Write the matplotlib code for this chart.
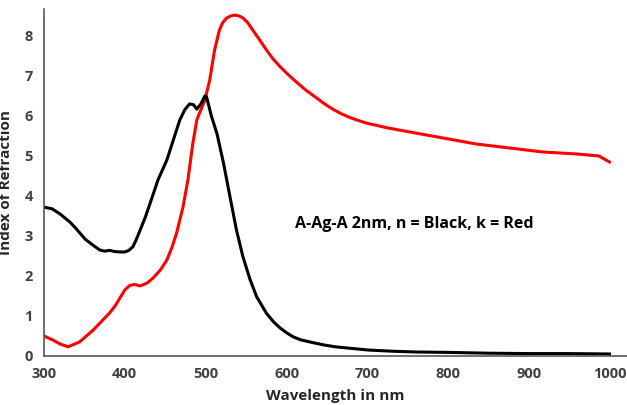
"""Refractive index (n) and extinction (k) of A-Ag-A 2 nm film vs wavelength."""

import matplotlib.pyplot as plt

# n (black curve)
wl_n = [300, 310, 320, 332, 340, 351, 360, 369, 375, 381, 388, 394, 400, 405,
        410, 414, 419, 425, 431, 441, 452, 460, 468, 474, 480, 485, 489, 494,
        499, 501, 507, 514, 522, 530, 538, 546, 555, 563, 575, 584, 592, 600,
        608, 618, 629, 645, 660, 680, 700, 730, 760, 800, 850, 900, 950, 999]
n_vals = [3.72, 3.68, 3.55, 3.35, 3.18, 2.92, 2.78, 2.65, 2.62, 2.64, 2.61, 2.6,
          2.6, 2.64, 2.73, 2.9, 3.15, 3.45, 3.8, 4.4, 4.9, 5.4, 5.9, 6.15, 6.3,
          6.28, 6.17, 6.3, 6.5, 6.48, 6.0, 5.55, 4.82, 3.98, 3.15, 2.48, 1.9,
          1.48, 1.07, 0.85, 0.7, 0.58, 0.48, 0.4, 0.35, 0.28, 0.23, 0.19, 0.15,
          0.12, 0.1, 0.09, 0.07, 0.06, 0.06, 0.05]

# k (red curve)
wl_k = [300, 311, 320, 330, 344, 361, 381, 388, 394, 400, 406, 412, 419, 428,
        435, 444, 452, 458, 464, 472, 478, 484, 489, 494, 499, 505, 511, 517,
        521, 526, 531, 536, 541, 546, 552, 558, 566, 575, 583, 592, 602, 612,
        624, 637, 647, 657, 667, 677, 688, 699, 725, 752, 793, 834, 875, 916,
        958, 986, 999]
k_vals = [0.5, 0.4, 0.3, 0.23, 0.35, 0.65, 1.07, 1.25, 1.45, 1.65, 1.76, 1.79,
          1.75, 1.83, 1.95, 2.15, 2.4, 2.7, 3.07, 3.73, 4.4, 5.3, 5.9, 6.15, 6.4,
          6.9, 7.65, 8.15, 8.33, 8.45, 8.5, 8.52, 8.5, 8.45, 8.33, 8.15, 7.92,
          7.65, 7.43, 7.23, 7.03, 6.85, 6.64, 6.45, 6.3, 6.17, 6.06, 5.97, 5.89,
          5.82, 5.7, 5.6, 5.45, 5.3, 5.2, 5.1, 5.05, 5.0, 4.85]

x_ticks = [300, 400, 500, 600, 700, 800, 900, 1000]
y_ticks = [0, 1, 2, 3, 4, 5, 6, 7, 8]

plt.rcParams["font.family"] = ["Open Sans", "DejaVu Sans"]

fig = plt.figure(figsize=(6.27, 4.05), dpi=100)
ax = fig.add_axes([0.070, 0.121, 0.930, 0.857])

ax.plot(wl_k, k_vals, color="#ff0000", lw=2.2, solid_joinstyle="round")
ax.plot(wl_n, n_vals, color="#000000", lw=2.2, solid_joinstyle="round")

ax.set_xlim(300, 1020.7)
ax.set_ylim(0, 8.675)
ax.set_xticks(x_ticks)
ax.set_yticks(y_ticks)
ax.tick_params(length=0, labelsize=10.5, labelcolor="#404040", pad=8)
for lab in ax.get_xticklabels() + ax.get_yticklabels():
    lab.set_fontweight("bold")

for side in ("top", "right"):
    ax.spines[side].set_visible(False)
for side in ("left", "bottom"):
    ax.spines[side].set_color("#595959")
    ax.spines[side].set_linewidth(1.2)

ax.set_xlabel("Wavelength in nm", fontsize=11, fontweight="bold",
              color="#262626", labelpad=6)
ax.set_ylabel("Index of Refraction", fontsize=11, fontweight="bold",
              color="#262626", labelpad=8)

ax.text(610, 3.3, "A-Ag-A 2nm, n = Black, k = Red", fontsize=11.5,
        fontweight="bold", color="#000000", va="center", ha="left")

fig.savefig("out.png", dpi=100)
